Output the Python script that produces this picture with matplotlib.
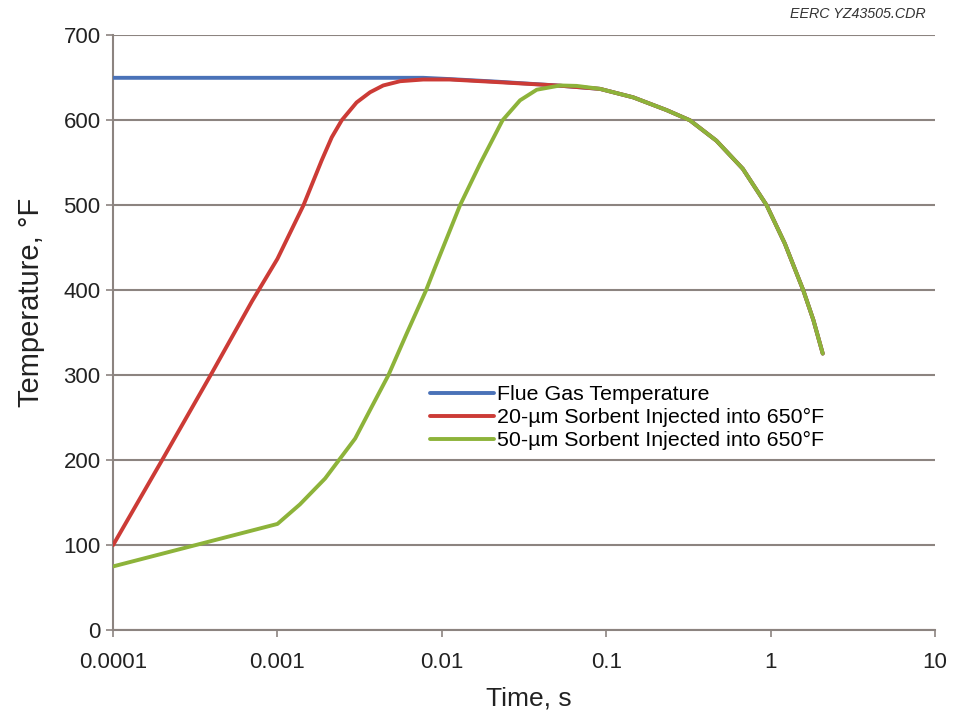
import matplotlib
matplotlib.use("Agg")
import matplotlib.pyplot as plt
from matplotlib.ticker import FixedLocator, FixedFormatter, NullLocator

plt.rcParams['font.family'] = ['Liberation Sans', 'DejaVu Sans']

# --- DATA ---
# shared cooling tail, all three curves end together
tail_t = [0.0916, 0.146, 0.233, 0.323, 0.468, 0.677, 0.946, 1.22, 1.58, 1.82, 2.075]
tail_T = [637, 627, 612, 600, 576, 543, 500, 455, 400, 365, 325.5]

flue_t = [0.0001, 0.0077, 0.0112, 0.0215, 0.05] + tail_t
flue_T = [650, 650, 648.5, 645.5, 641] + tail_T

red_t = [0.0001, 0.0002, 0.0004, 0.0007, 0.001, 0.00144, 0.00186, 0.00214, 0.00246,
         0.00303, 0.00366, 0.0044, 0.00557, 0.0077, 0.0112, 0.0215, 0.05] + tail_t
red_T = [100, 201, 303, 387, 437, 500, 553, 580, 600,
         621, 633, 641, 646, 648, 648, 645, 641] + tail_T

green_t = [0.0001, 0.001, 0.00137, 0.00195, 0.00297, 0.00375, 0.00473, 0.00611, 0.00802,
           0.0091, 0.0129, 0.0171, 0.0234, 0.0299, 0.0378, 0.0525, 0.066] + tail_t
green_T = [75, 125, 148, 178.5, 225.5, 263, 300, 349, 400,
           427, 500, 549, 600, 623.5, 636, 641, 640.5] + tail_T

x_ticks = [0.0001, 0.001, 0.01, 0.1, 1, 10]
x_labels = ["0.0001", "0.001", "0.01", "0.1", "1", "10"]
y_ticks = [0, 100, 200, 300, 400, 500, 600, 700]

GRID = '#8c8480'
TXT = '#222222'

fig = plt.figure(figsize=(9.58, 7.21), dpi=100)
ax = fig.add_axes([0.118, 0.126, 0.858, 0.825])

ax.plot(flue_t, flue_T, color='#4a72b8', lw=2.8, label='Flue Gas Temperature',
        zorder=3, solid_joinstyle='round', solid_capstyle='round')
ax.plot(red_t, red_T, color='#cc3b36', lw=2.8, label='20-µm Sorbent Injected into 650°F',
        zorder=4, solid_joinstyle='round', solid_capstyle='round')
ax.plot(green_t, green_T, color='#8db33a', lw=2.8, label='50-µm Sorbent Injected into 650°F',
        zorder=5, solid_joinstyle='round', solid_capstyle='round')

ax.set_xscale('log')
ax.set_xlim(0.0001, 10)
ax.set_ylim(0, 700)
ax.xaxis.set_major_locator(FixedLocator(x_ticks))
ax.xaxis.set_major_formatter(FixedFormatter(x_labels))
ax.xaxis.set_minor_locator(NullLocator())
ax.set_yticks(y_ticks)

ax.grid(axis='y', color=GRID, lw=1.5, zorder=1)
for s in ['top', 'right']:
    ax.spines[s].set_visible(False)
for s in ['left', 'bottom']:
    ax.spines[s].set_color(GRID)
    ax.spines[s].set_linewidth(1.5)
    ax.spines[s].set_zorder(2)

ax.tick_params(axis='both', colors=GRID, width=1.2, length=5, labelcolor=TXT, labelsize=16)
ax.tick_params(axis='y', pad=4)
ax.tick_params(axis='x', pad=11)

ax.set_xlabel('Time, s', fontsize=19, color=TXT)
ax.set_ylabel('Temperature, °F', fontsize=21, color=TXT)
ax.xaxis.set_label_coords(0.506, -0.095)
ax.yaxis.set_label_coords(-0.083, 0.551)

ax.legend(loc='upper left', bbox_to_anchor=(0.3856, 0.412), frameon=False,
          fontsize=15.4, handlelength=3.0, handletextpad=0.15, labelspacing=0.19,
          borderpad=0, borderaxespad=0)

fig.text(0.966, 0.99, 'EERC YZ43505.CDR', ha='right', va='top',
         fontsize=10.3, style='italic', color='#333333')

fig.savefig('out.png', dpi=100)
